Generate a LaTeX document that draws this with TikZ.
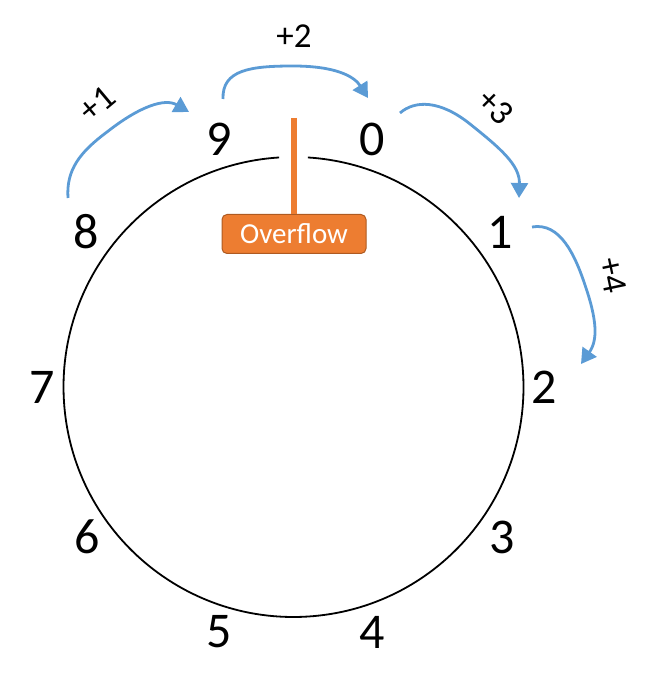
\documentclass[tikz,border=0pt]{standalone}
\usepackage{fontspec}
\setmainfont{Carlito}
\usetikzlibrary{arrows.meta}
\definecolor{arrowblue}{HTML}{5B9BD5}
\definecolor{ovorange}{HTML}{ED7D31}
\definecolor{ovborder}{HTML}{AE5A21}
\begin{document}
\begin{tikzpicture}[x=1pt,y=-1pt,
  digit/.style={inner sep=0pt, font=\fontsize{50}{52}\selectfont},
  steplbl/.style={inner sep=0pt, font=\fontsize{35}{38}\selectfont},
  hop/.style={arrowblue, line width=2.8pt, -{Triangle[width=17pt,length=15pt]}},
  ovbox/.style={fill=ovorange, draw=ovborder, line width=1pt, rounded corners=5pt,
    minimum width=144pt, minimum height=39pt, inner sep=0pt, text=white,
    font=\fontsize{29}{32}\selectfont},
  ring/.style={line width=1.8pt, black},
  ovline/.style={ovorange, line width=5.5pt}
  ]
\useasboundingbox (0,0) rectangle (660,692);
\coordinate (ctr) at (293.5,387);
\draw[ring] (ctr) ++(93.6:230pt) arc[start angle=93.6, end angle=446.4, radius=230pt];

% digits
\node[digit] (d0) at (372,139) {0};
\node[digit] (d1) at (500,232) {1};
\node[digit] (d2) at (544,387) {2};
\node[digit] (d3) at (502,537) {3};
\node[digit] (d4) at (372,632) {4};
\node[digit] (d5) at (219,632) {5};
\node[digit] (d6) at (87,537) {6};
\node[digit] (d7) at (42,387) {7};
\node[digit] (d8) at (86,232) {8};
\node[digit] (d9) at (219.5,139) {9};

% overflow marker
\node[ovbox] (ovf) at (294,234) {Overflow};
\coordinate (ovtop) at (294,118);
\draw[ovline] (ovtop) -- (ovf.north);

% hops
\coordinate (h1s) at (68,198);
\coordinate (h1e) at (189,112);
\draw[hop] (h1s) .. controls (66,170) and (80,152) .. (107,132) .. controls (140,106) and (165,98) .. (h1e);

\coordinate (h2s) at (223,99);
\coordinate (h2e) at (368,98);
\draw[hop] (h2s) .. controls (222,70) and (250,66) .. (293,66) .. controls (335,66) and (354,76) .. (h2e);

\coordinate (h3s) at (400,113);
\coordinate (h3e) at (519,198);
\draw[hop] (h3s) .. controls (415,100) and (440,100) .. (470,124) .. controls (500,148) and (520,165) .. (h3e);

\coordinate (h4s) at (532,227);
\coordinate (h4e) at (581,364);
\draw[hop] (h4s) .. controls (560,222) and (575,255) .. (585,285) .. controls (597,320) and (598,340) .. (h4e);

% hop labels
\node[steplbl, rotate=40] (l1) at (97,104) {+1};
\node[steplbl] (l2) at (294,36) {+2};
\node[steplbl, rotate=-45] (l3) at (496,107) {+3};
\node[steplbl, rotate=-78] (l4) at (613,275) {+4};
\end{tikzpicture}
\end{document}
